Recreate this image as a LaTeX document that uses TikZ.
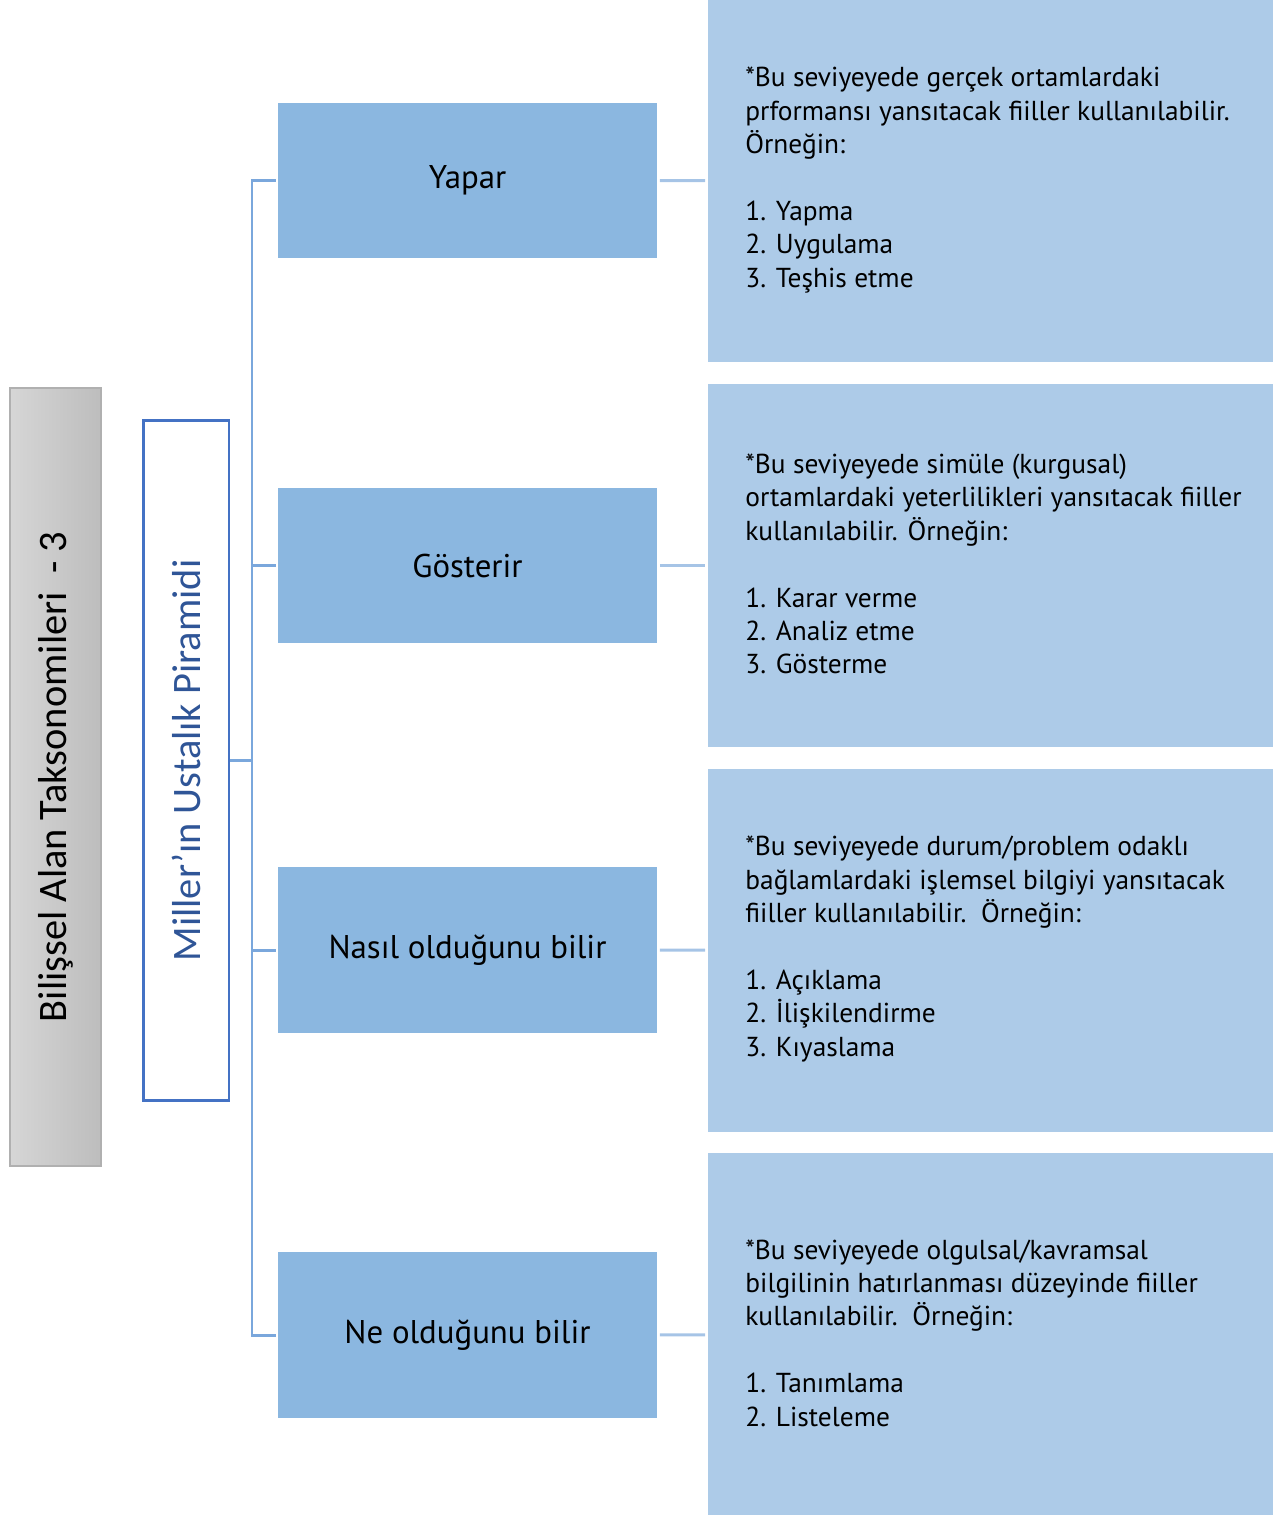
\documentclass[tikz,border=0pt]{standalone}
\usepackage{fontspec}
\setmainfont{PT Sans}
\newfontfamily\calibri{Carlito}
\usepackage{xcolor}

\definecolor{lvlblue}{HTML}{8BB7E0}
\definecolor{infoblue}{HTML}{ADCBE8}
\definecolor{treeblue}{HTML}{7AA7DC}
\definecolor{linkblue}{HTML}{A6C4E6}
\definecolor{pyrline}{HTML}{4472C4}
\definecolor{pyrtext}{HTML}{2F5597}
\definecolor{taxlight}{HTML}{D6D6D6}
\definecolor{taxdark}{HTML}{BDBDBD}
\definecolor{taxline}{HTML}{B0B0B0}

\begin{document}
\begin{tikzpicture}[x=0.02cm,y=-0.02cm,
	level/.style={fill=lvlblue,minimum width=7.58cm,inner sep=0pt,font=\fontsize{18.7}{22}\selectfont},
	info/.style={fill=infoblue,minimum width=11.3cm,minimum height=7.26cm,inner sep=0pt},
	infotext/.style={anchor=west,align=left,inner sep=0pt,font=\fontsize{15.6}{19}\selectfont},
	tree/.style={treeblue,line width=1.7pt},
	link/.style={linkblue,line width=1.7pt,shorten <=1.5pt,shorten >=1.5pt}]

	\useasboundingbox (0,0) rectangle (1275,1515);

	\node (tax) [rotate=90,draw=taxline,line width=0.7pt,left color=taxlight,right color=taxdark,
		minimum width=15.56cm,minimum height=1.82cm,inner sep=0pt,font=\calibri\fontsize{23}{27}\selectfont]
		at (55.5,777) {Bilişsel Alan Taksonomileri\ \ - 3};
	\node (pyr) [rotate=90,draw=pyrline,fill=white,line width=1.7pt,text=pyrtext,
		minimum width=13.62cm,minimum height=1.72cm,inner sep=0pt,font=\calibri\fontsize{23}{27}\selectfont]
		at (186,760.5) {Miller’ın Ustalık Piramidi};

	\node (yapar) [level,minimum height=3.1cm] at (467.5,180.5) {Yapar};
	\node (gost) [level,minimum height=3.1cm] at (467.5,565.5) {Gösterir};
	\node (nasil) [level,minimum height=3.32cm] at (467.5,950) {Nasıl olduğunu bilir};
	\node (ne) [level,minimum height=3.32cm] at (467.5,1335) {Ne olduğunu bilir};

	\node (info1) [info] at (990.5,181) {};
	\node (info2) [info] at (990.5,565.5) {};
	\node (info3) [info] at (990.5,950.5) {};
	\node (info4) [info] at (990.5,1334.5) {};

	\node (text1) [infotext] at (745,180) {*Bu seviyeyede gerçek ortamlardaki\\prformansı yansıtacak fiiller kullanılabilir.\\Örneğin:\\[19pt]1. Yapma\\2. Uygulama\\3. Teşhis etme};
	\node (text2) [infotext] at (745,564) {*Bu seviyeyede simüle (kurgusal)\\ortamlardaki yeterlilikleri yansıtacak fiiller\\kullanılabilir. Örneğin:\\[19pt]1. Karar verme\\2. Analiz etme\\3. Gösterme};
	\node (text3) [infotext] at (745,949) {*Bu seviyeyede durum/problem odaklı\\bağlamlardaki işlemsel bilgiyi yansıtacak\\fiiller kullanılabilir.\ \ Örneğin:\\[19pt]1. Açıklama\\2. İlişkilendirme\\3. Kıyaslama};
	\node (text4) [infotext] at (745,1333) {*Bu seviyeyede olgulsal/kavramsal\\bilgilinin hatırlanması düzeyinde fiiller\\kullanılabilir.\ \ Örneğin:\\[19pt]1. Tanımlama\\2. Listeleme};

	\coordinate (trunk) at (252,760.5);
	\draw[tree] (pyr.south) -- (trunk);
	\draw[tree] (trunk) |- ([xshift=-1pt]yapar.west);
	\draw[tree] (trunk) |- ([xshift=-1pt]gost.west);
	\draw[tree] (trunk) |- ([xshift=-1pt]nasil.west);
	\draw[tree] (trunk) |- ([xshift=-1pt]ne.west);

	\draw[link] (yapar) -- (info1);
	\draw[link] (gost) -- (info2);
	\draw[link] (nasil) -- (info3);
	\draw[link] (ne) -- (info4);
\end{tikzpicture}
\end{document}
